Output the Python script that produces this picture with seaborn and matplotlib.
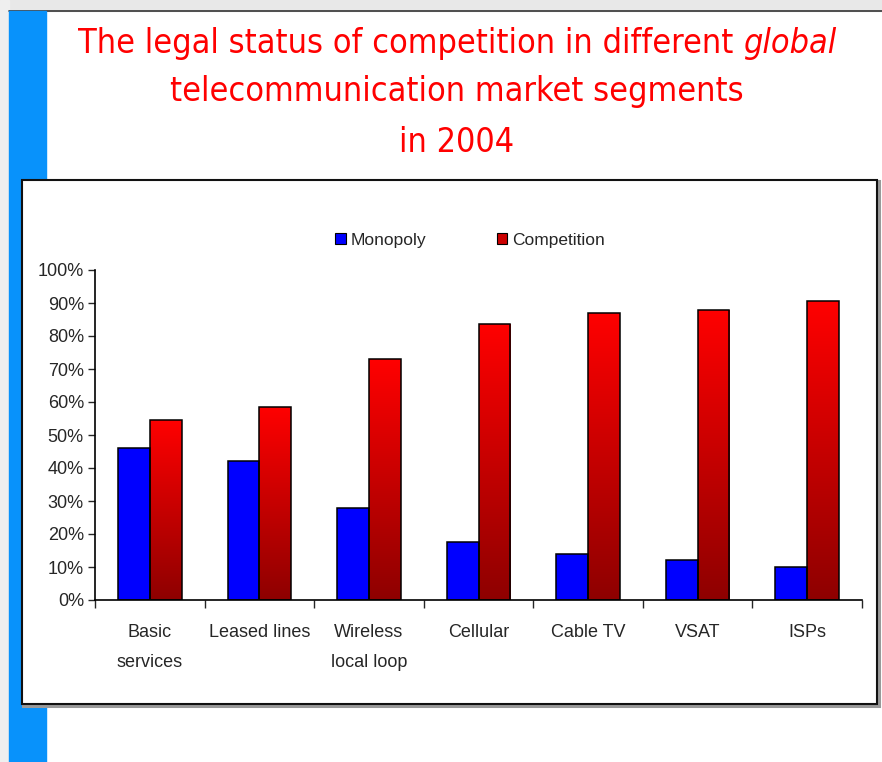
import numpy as np
import pandas as pd
import seaborn as sns
import matplotlib.pyplot as plt
from matplotlib.patches import Rectangle, Patch
from matplotlib.lines import Line2D
from matplotlib.colors import LinearSegmentedColormap
from matplotlib.ticker import FuncFormatter

# Valeurs (en %)
segments = ["Basic\nservices", "Leased lines", "Wireless\nlocal loop", "Cellular", "Cable TV", "VSAT", "ISPs"]
monopoly = [46, 42, 28, 17.5, 14, 12, 10]
competition = [54.5, 58.5, 73, 83.5, 87, 88, 90.5]
series = ["Monopoly", "Competition"]
yticks = [0, 10, 20, 30, 40, 50, 60, 70, 80, 90, 100]

df = pd.DataFrame({
    "segment": segments * 2,
    "status": [series[0]] * len(segments) + [series[1]] * len(segments),
    "value": monopoly + competition,
})

sns.set_style("white")
plt.rcParams["font.family"] = ["Liberation Sans", "DejaVu Sans"]

W, H = 882, 762
fig = plt.figure(figsize=(W / 100, H / 100), dpi=100)
fig.patch.set_facecolor("white")


def box(x0, y0, x1, y1):
    # pixels (origine en haut à gauche) -> coordonnées figure
    return (x0 / W, 1 - y1 / H), (x1 - x0) / W, (y1 - y0) / H


# fond de la diapo
xy, w, h = box(0, 0, W, 11)
fig.add_artist(Rectangle(xy, w, h, transform=fig.transFigure, color="#e8e8e8", zorder=0))
xy, w, h = box(0, 0, 9, H)
fig.add_artist(Rectangle(xy, w, h, transform=fig.transFigure, color="#efefef", zorder=0))
fig.add_artist(Line2D([9 / W, 1], [1 - 11 / H, 1 - 11 / H], transform=fig.transFigure, color="#333333", lw=1.2, zorder=1))
xy, w, h = box(9, 11, 46, H)
fig.add_artist(Rectangle(xy, w, h, transform=fig.transFigure, color="#0892fb", zorder=1))

# cadre du graphique
xy, w, h = box(23, 181, 879, 706)
fig.add_artist(Rectangle(xy, w, h, transform=fig.transFigure, fc="none", ec="#999999", lw=2.2, zorder=2))
xy, w, h = box(22, 180, 877, 704)
fig.add_artist(Rectangle(xy, w, h, transform=fig.transFigure, fc="white", ec="#111111", lw=1.5, zorder=2))

# titre
red = "#ff0000"
tfont = dict(color=red, fontsize=24.5, family="DejaVu Sans", stretch="condensed", va="baseline", zorder=5)
t1 = fig.text(0, 1 - 53 / H, "The legal status of competition in different ", ha="left", **tfont)
t2 = fig.text(0, 1 - 53 / H, "global", ha="left", style="italic", **tfont)
r = fig.canvas.get_renderer()
w1 = t1.get_window_extent(r).width
w2 = t2.get_window_extent(r).width
left = 457 - (w1 + w2) / 2
t1.set_x(left / W)
t2.set_x((left + w1) / W)
fig.text(457 / W, 1 - 101 / H, "telecommunication market segments", ha="center", **tfont)
fig.text(457 / W, 1 - 152 / H, "in 2004", ha="center", **tfont)

# graphique
ax = fig.add_axes([95 / W, 1 - 600 / H, (862 - 95) / W, 330 / H], zorder=3)
sns.barplot(data=df, x="segment", y="value", hue="status", hue_order=series,
            palette={"Monopoly": "#0000ff", "Competition": "#cc0000"},
            width=0.58, edgecolor="black", linewidth=1.1, saturation=1, legend=False, ax=ax)

# dégradé rouge -> rouge foncé sur les barres "Competition"
cmap = LinearSegmentedColormap.from_list("comp", ["#8e0000", "#ff0000"])
grad = np.linspace(0, 1, 256).reshape(-1, 1)
for bar in ax.containers[1]:
    x, bw, bh = bar.get_x(), bar.get_width(), bar.get_height()
    im = ax.imshow(grad, extent=[x, x + bw, 0, bh], origin="lower", aspect="auto", cmap=cmap,
                   zorder=bar.get_zorder() - 0.1, interpolation="bilinear")
    im.set_clip_path(bar)
    bar.set_facecolor("none")

ax.set_xlim(-0.5, len(segments) - 0.5)
ax.set_ylim(0, 100)
ax.set_yticks(yticks)
ax.yaxis.set_major_formatter(FuncFormatter(lambda v, p: f"{v:.0f}%"))
ax.set_xlabel("")
ax.set_ylabel("")
ax.set_xticks(np.arange(-0.5, len(segments)), minor=True)
ax.tick_params(axis="y", left=True, direction="out", length=5, width=1, labelsize=13, pad=3)
ax.tick_params(axis="x", which="major", bottom=False, length=0, labelsize=13, pad=17)
ax.tick_params(axis="x", which="minor", bottom=True, direction="out", length=6, width=1)
for lbl in ax.get_xticklabels():
    lbl.set_linespacing(2.0)
sns.despine(ax=ax)
for s in ["left", "bottom"]:
    ax.spines[s].set_color("black")
    ax.spines[s].set_linewidth(1.2)

handles = [Patch(fc="#0000ff", ec="black", lw=0.8, label="Monopoly"),
           Patch(fc="#cc0000", ec="black", lw=0.8, label="Competition")]
fig.legend(handles=handles, loc="center", bbox_to_anchor=(470 / W, 1 - 240 / H), ncol=2, frameon=False,
           handlelength=0.6, handleheight=0.6, handletextpad=0.25, columnspacing=4.1, fontsize=12.5)

fig.savefig("out.png", dpi=100)
